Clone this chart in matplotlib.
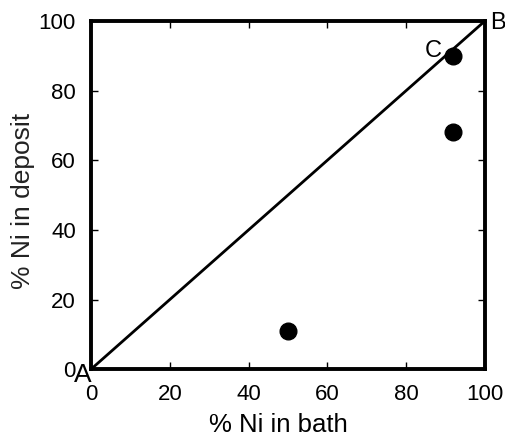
import matplotlib
matplotlib.use("Agg")
import matplotlib.pyplot as plt

plt.rcParams['font.family'] = ['Liberation Sans', 'DejaVu Sans']

bath = [50, 92, 92]
deposit = [11, 90, 68]
line_x = [0, 100]
line_y = [0, 100]
ticks = [0, 20, 40, 60, 80, 100]

fig = plt.figure(figsize=(5.06, 4.40), dpi=100)
ax = fig.add_axes([0.180, 0.161, 0.778, 0.791])
ax.plot(line_x, line_y, color='black', lw=2.0, clip_on=False)
ax.plot(bath, deposit, 'o', color='black', markersize=12, clip_on=False)
ax.set_xlim(0, 100)
ax.set_ylim(0, 100)
ax.set_xticks(ticks)
ax.set_yticks(ticks)
ax.tick_params(direction='in', length=5, width=1, top=True, right=True,
               labeltop=False, labelright=False, labelsize=16, pad=11)
for s in ax.spines.values():
    s.set_linewidth(2.8)
ax.set_xlabel('% Ni in bath', fontsize=18.5)
ax.set_ylabel('% Ni in deposit', fontsize=19, color='#222222')
ax.xaxis.set_label_coords(0.477, -0.125)
ax.yaxis.set_label_coords(-0.142, 0.483)
ax.text(-2.0, -3.7, 'A', fontsize=19, ha='center', va='baseline')
ax.text(103.4, 97.7, 'B', fontsize=17, ha='center', va='baseline')
ax.text(86.8, 89.7, 'C', fontsize=17, ha='center', va='baseline')
fig.savefig('out.png', dpi=100)
